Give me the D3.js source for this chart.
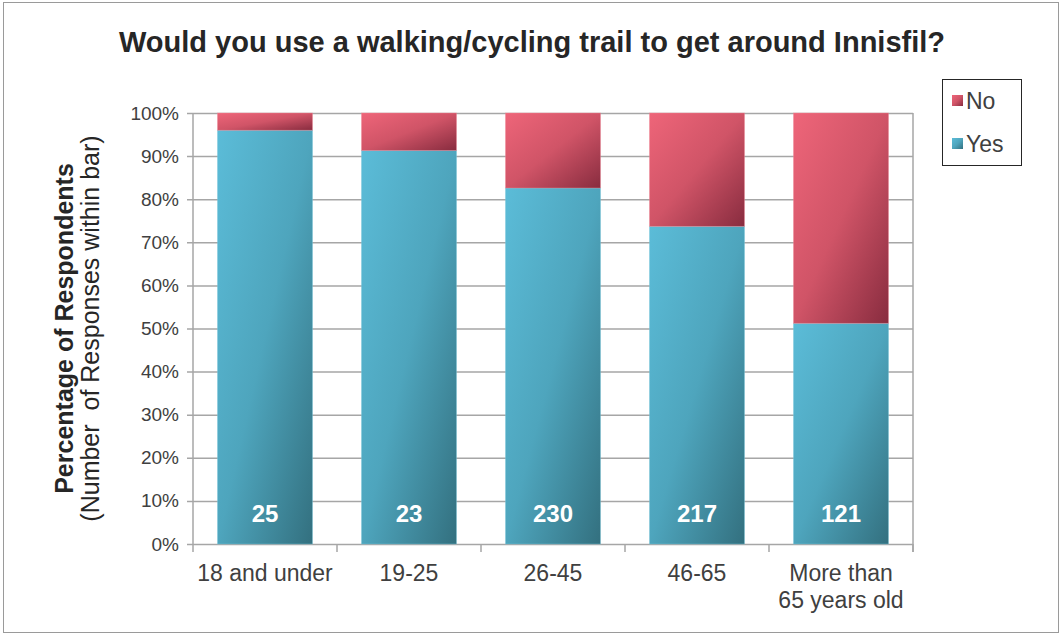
<!DOCTYPE html>
<html>
<head>
<meta charset="utf-8">
<script src="https://cdn.jsdelivr.net/npm/d3@7"></script>
<style>
  body { margin: 0; background: #fff; }
  svg { display: block; font-family: "Liberation Sans", Arial, sans-serif; }
</style>
</head>
<body>
<div id="chart"></div>
<script>
const categories = ["18 and under", "19-25", "26-45", "46-65", "More than|65 years old"];
const yesPct = [96, 91.3, 82.6, 73.7, 51.2];
const noPct = [4, 8.7, 17.4, 26.3, 48.8];
const responses = [25, 23, 230, 217, 121];
const yTicks = [0, 10, 20, 30, 40, 50, 60, 70, 80, 90, 100];

function createChart() {
    var width = 1062;
    var height = 635;
    var margin = ({top: 113, right: 149, bottom: 91, left: 193});

    var svg = d3.select("#chart")
        .append("svg")
            .attr("width", width)
            .attr("height", height);

    var defs = svg.append("defs");
    function gradient(id, stops) {
        var g = defs.append("linearGradient")
            .attr("id", id)
            .attr("x1", 0).attr("y1", 0).attr("x2", 1).attr("y2", 1);
        stops.forEach(s => g.append("stop").attr("offset", s[0]).attr("stop-color", s[1]));
    }
    gradient("gYes", [[0, "#5bbcd8"], [0.5, "#4ea5bd"], [1, "#33707f"]]);
    gradient("gNo", [[0, "#ee6579"], [0.5, "#d05467"], [1, "#882c3f"]]);

    // outer chart border
    svg.append("rect")
        .attr("x", 3.5).attr("y", 2.5)
        .attr("width", 1055).attr("height", 630)
        .attr("fill", "none")
        .attr("stroke", "#9a9a9a");

    var x = d3.scaleBand()
        .domain(categories)
        .range([margin.left, width - margin.right])
        .paddingInner(0.34)
        .paddingOuter(0.17);

    var y = d3.scaleLinear()
        .domain([0, 100])
        .range([height - margin.bottom, margin.top]);

    // gridlines + y axis
    svg.append("g")
        .attr("transform", `translate(${margin.left},0)`)
        .call(d3.axisLeft(y).tickValues(yTicks).tickFormat(d => d + "%")
            .tickSize(-(width - margin.left - margin.right)).tickPadding(14))
        .call(g => g.select(".domain").remove())
        .call(g => g.selectAll(".tick line").attr("stroke", "#a6a6a6").attr("stroke-width", 1.5).attr("x1", -6))
        .call(g => g.selectAll(".tick text")
            .attr("fill", "#404040")
            .attr("font-size", 19)
            .attr("font-family", "Liberation Sans, Arial, sans-serif"));

    // y axis line and right border
    svg.append("line")
        .attr("x1", margin.left).attr("x2", margin.left)
        .attr("y1", margin.top).attr("y2", height - margin.bottom)
        .attr("stroke", "#a6a6a6").attr("stroke-width", 1.5);
    svg.append("line")
        .attr("x1", width - margin.right).attr("x2", width - margin.right)
        .attr("y1", margin.top).attr("y2", height - margin.bottom + 8)
        .attr("stroke", "#a6a6a6").attr("stroke-width", 1.5);

    // category boundary ticks
    var step = x.step();
    svg.append("g")
        .selectAll("line")
        .data(d3.range(categories.length + 1))
        .join("line")
            .attr("x1", i => margin.left + i * step)
            .attr("x2", i => margin.left + i * step)
            .attr("y1", height - margin.bottom)
            .attr("y2", height - margin.bottom + 8)
            .attr("stroke", "#a6a6a6")
            .attr("stroke-width", 1.5);

    // bars
    var bars = svg.append("g");
    bars.selectAll("rect.yes")
        .data(categories)
        .join("rect")
            .attr("class", "yes")
            .attr("x", d => x(d))
            .attr("width", x.bandwidth())
            .attr("y", (d, i) => y(yesPct[i]))
            .attr("height", (d, i) => y(0) - y(yesPct[i]))
            .attr("fill", "url(#gYes)")
            .attr("stroke", "#7cc8dc")
            .attr("stroke-opacity", 0.5)
            .attr("stroke-width", 0.8);
    bars.selectAll("rect.no")
        .data(categories)
        .join("rect")
            .attr("class", "no")
            .attr("x", d => x(d))
            .attr("width", x.bandwidth())
            .attr("y", (d, i) => y(yesPct[i] + noPct[i]))
            .attr("height", (d, i) => y(yesPct[i]) - y(yesPct[i] + noPct[i]))
            .attr("fill", "url(#gNo)")
            .attr("stroke", "#f08a98")
            .attr("stroke-opacity", 0.5)
            .attr("stroke-width", 0.8);

    // response counts
    svg.append("g")
        .selectAll("text")
        .data(categories)
        .join("text")
            .attr("x", d => x(d) + x.bandwidth() / 2)
            .attr("y", y(5.2))
            .attr("text-anchor", "middle")
            .attr("fill", "#fff")
            .attr("font-weight", "bold")
            .attr("font-size", 24)
            .text((d, i) => responses[i]);

    // category labels
    var labels = svg.append("g")
        .selectAll("text")
        .data(categories)
        .join("text")
            .attr("x", d => x(d) + x.bandwidth() / 2)
            .attr("y", height - margin.bottom + 37)
            .attr("text-anchor", "middle")
            .attr("fill", "#404040")
            .attr("font-size", 23);
    labels.selectAll("tspan")
        .data(d => d.split("|").map((t, k) => ({t, k})))
        .join("tspan")
            .attr("x", function() { return this.parentNode.getAttribute("x"); })
            .attr("dy", d => d.k === 0 ? 0 : 27)
            .text(d => d.t);

    // title
    svg.append("text")
        .attr("x", 532)
        .attr("y", 52)
        .attr("text-anchor", "middle")
        .attr("font-weight", "bold")
        .attr("font-size", 29)
        .attr("fill", "#262626")
        .text("Would you use a walking/cycling trail to get around Innisfil?");

    // y axis title
    var cy = (margin.top + height - margin.bottom) / 2;
    svg.append("text")
        .attr("transform", `translate(73,${cy}) rotate(-90)`)
        .attr("text-anchor", "middle")
        .attr("font-weight", "bold")
        .attr("font-size", 25)
        .attr("fill", "#262626")
        .text("Percentage of Respondents");
    svg.append("text")
        .attr("transform", `translate(99,${cy}) rotate(-90)`)
        .attr("text-anchor", "middle")
        .attr("font-size", 25)
        .attr("fill", "#262626")
        .style("white-space", "pre")
        .text("(Number  of Responses within bar)");

    // legend
    var legend = svg.append("g");
    legend.append("rect")
        .attr("x", 942.5).attr("y", 79.5)
        .attr("width", 79).attr("height", 86)
        .attr("fill", "#fff")
        .attr("stroke", "#262626");
    var items = [["No", "url(#gNo)"], ["Yes", "url(#gYes)"]];
    items.forEach((it, i) => {
        legend.append("rect")
            .attr("x", 952).attr("y", 95 + i * 43)
            .attr("width", 11).attr("height", 11)
            .attr("fill", it[1]);
        legend.append("text")
            .attr("x", 966).attr("y", 109 + i * 43)
            .attr("font-size", 23)
            .attr("fill", "#404040")
            .text(it[0]);
    });
}

createChart();
</script>
</body>
</html>
